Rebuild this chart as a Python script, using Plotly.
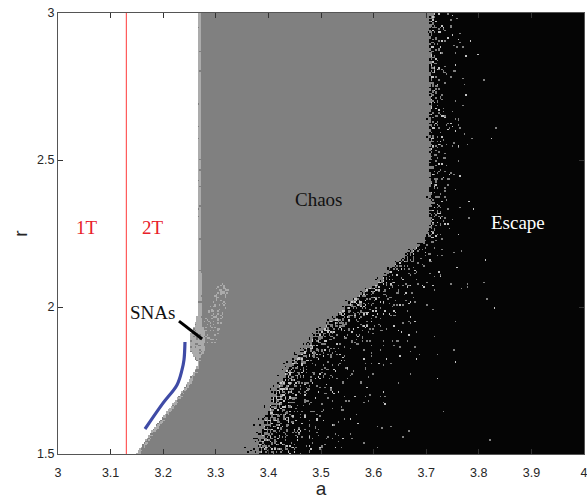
import numpy as np
import plotly.graph_objects as go

# ---------------- parameter plane ----------------
A_MIN, A_MAX = 3.0, 4.0
R_MIN, R_MAX = 1.5, 3.0
NA, NR = 350, 294

# boundary between regular motion (white) and the rest, a as a function of r
LEFT_R = [1.500, 1.582, 1.650, 1.718, 1.786, 1.810, 1.827, 1.854, 1.905, 1.939, 1.973, 3.000]
LEFT_A = [3.148, 3.179, 3.209, 3.238, 3.260, 3.266, 3.260, 3.251, 3.251, 3.260, 3.265, 3.266]

# start of fully chaotic (dark grey) region
DARK_R = [1.500, 1.582, 1.650, 1.718, 1.786, 1.827, 1.854, 1.905, 1.939, 1.973, 3.000]
DARK_A = [3.156, 3.187, 3.217, 3.245, 3.267, 3.271, 3.279, 3.279, 3.275, 3.273, 3.272]

# scattered SNA points inside the chaotic region
SNA_SPK_R = [1.88, 1.94, 1.99, 2.05, 2.08]
SNA_SPK_A0 = [3.279, 3.276, 3.285, 3.298, 3.305]
SNA_SPK_A1 = [3.300, 3.310, 3.318, 3.324, 3.325]

# outer edge of the escape region
ESC_R = [1.500, 1.514, 1.571, 1.684, 1.796, 1.878, 1.946, 2.024, 2.082, 2.136, 2.187, 2.220, 2.260, 3.000]
ESC_A = [3.376, 3.378, 3.384, 3.403, 3.435, 3.473, 3.511, 3.555, 3.599, 3.631, 3.663, 3.690, 3.704, 3.704]

# 1T / 2T transition
A_1T2T = 3.13

# curve and pointer
BLUE_A = [3.1654, 3.1996, 3.2262, 3.2357, 3.2395, 3.2414]
BLUE_R = [1.585, 1.673, 1.735, 1.786, 1.820, 1.881]
PTR_A = [3.230, 3.274]
PTR_R = [1.952, 1.891]

X_TICKS = [3.0, 3.1, 3.2, 3.3, 3.4, 3.5, 3.6, 3.7, 3.8, 3.9, 4.0]
X_TICKTEXT = ["3", "3.1", "3.2", "3.3", "3.4", "3.5", "3.6", "3.7", "3.8", "3.9", "4"]
Y_TICKS = [1.5, 2.0, 2.5, 3.0]
Y_TICKTEXT = ["1.5", "2", "2.5", "3"]

# ---------------- regime grid ----------------
a = A_MIN + (np.arange(NA) + 0.5) * (A_MAX - A_MIN) / NA
r = R_MIN + (np.arange(NR) + 0.5) * (R_MAX - R_MIN) / NR
AA, RR = np.meshgrid(a, r)
II, JJ = np.meshgrid(np.arange(NA), np.arange(NR))


def dither(salt):
    """Deterministic integer-hash threshold map in [0, 1) for mixed cells."""
    h = (II.astype(np.uint32) * np.uint32(374761393)
         + JJ.astype(np.uint32) * np.uint32(668265263)
         + np.uint32((salt * 2246822519) & 0xFFFFFFFF))
    h = (h ^ (h >> np.uint32(13))) * np.uint32(1274126177)
    h = h ^ (h >> np.uint32(16))
    return h.astype(np.float64) / 4294967296.0


WHITE, LIGHT, GREY, BLACK, SPECK = 0, 1, 2, 3, 4
z = np.full(AA.shape, GREY)

left = np.interp(RR, LEFT_R, LEFT_A)
dark = np.interp(RR, DARK_R, DARK_A)
z[AA < left] = WHITE

# light-grey fringe: solid along the vertical edge, mottled along the diagonal edge
band = (AA >= left) & (AA < dark)
fill = np.interp(RR, [1.8, 1.95], [0.7, 0.95])
z[band & (dither(1) < fill)] = LIGHT

s0 = np.interp(RR, SNA_SPK_R, SNA_SPK_A0)
s1 = np.interp(RR, SNA_SPK_R, SNA_SPK_A1)
spk = (RR >= SNA_SPK_R[0]) & (RR <= SNA_SPK_R[-1]) & (AA >= s0) & (AA <= s1)
z[spk & (dither(2) < 0.25)] = LIGHT

# escape fraction: fuzzy edge, fast rise, long sparse tail
edge = np.interp(RR, ESC_R, ESC_A)
k = np.interp(RR, [2.0, 2.25], [1.0, 0.3])
d = AA - edge
dpos = np.maximum(d, 0.0)
q = 0.6 * np.exp(-dpos / (0.012 * k)) + 0.4 * np.exp(-dpos / (0.06 * k))
p_black = np.where(d >= 0, 1.0 - q, 0.2 * np.exp(d / (0.006 * k)))
esc = dither(3) < p_black
z[esc] = BLACK
z[(d >= 0.004) & ~esc & (dither(4) < 0.3)] = SPECK

colors = ["#FFFFFF", "#ABABAB", "#808080", "#050505", "#C4C4C4"]
n = len(colors)
colorscale = []
for i, c in enumerate(colors):
    colorscale += [[i / n, c], [(i + 1) / n, c]]

fig = go.Figure()
fig.add_trace(go.Heatmap(
    x=a, y=r, z=z, zmin=-0.5, zmax=n - 0.5,
    colorscale=colorscale, showscale=False, zsmooth=False, hoverinfo="skip",
))

fig.add_trace(go.Scatter(
    x=[A_1T2T, A_1T2T], y=[R_MIN, R_MAX], mode="lines",
    line=dict(color="#FF5A5A", width=1.2), showlegend=False, hoverinfo="skip",
))
fig.add_trace(go.Scatter(
    x=BLUE_A, y=BLUE_R, mode="lines", line=dict(color="#3F4BA6", width=3.2, shape="spline"),
    showlegend=False, hoverinfo="skip",
))
fig.add_trace(go.Scatter(
    x=PTR_A, y=PTR_R, mode="lines", line=dict(color="#000000", width=3),
    showlegend=False, hoverinfo="skip",
))

serif = "Liberation Serif, Times New Roman, serif"
labels = [
    ("1T", 3.0551, 2.269, "#E8202A"),
    ("2T", 3.1797, 2.269, "#E8202A"),
    ("Chaos", 3.4962, 2.367, "#111111"),
    ("Escape", 3.8745, 2.286, "#FFFFFF"),
    ("SNAs", 3.1787, 1.980, "#111111"),
]
for text, x, y, col in labels:
    fig.add_annotation(x=x, y=y, text=text, showarrow=False,
                       font=dict(family=serif, size=19, color=col),
                       xanchor="center", yanchor="middle")

sans = "Liberation Sans, Arial, sans-serif"
axis_common = dict(
    showgrid=False, zeroline=False, showline=True, linecolor="#555555", linewidth=1,
    ticks="inside", ticklen=5, tickcolor="#333333", mirror="allticks",
    tickfont=dict(family=sans, size=12.5, color="#262626"),
    ticklabeloverflow="allow", automargin=False,
)
fig.update_xaxes(range=[A_MIN, A_MAX], tickvals=X_TICKS, ticktext=X_TICKTEXT,
                 ticklabelstandoff=7,
                 title=dict(text="a", font=dict(family=sans, size=19, color="#262626"), standoff=8),
                 **axis_common)
fig.update_yaxes(range=[R_MIN, R_MAX], tickvals=Y_TICKS, ticktext=Y_TICKTEXT,
                 title=dict(text="r", font=dict(family=sans, size=19, color="#262626"), standoff=4),
                 **axis_common)

fig.update_layout(
    width=587, height=499,
    margin=dict(l=58, r=3, t=13, b=45),
    paper_bgcolor="white", plot_bgcolor="white",
)

fig.write_html("out.html")
